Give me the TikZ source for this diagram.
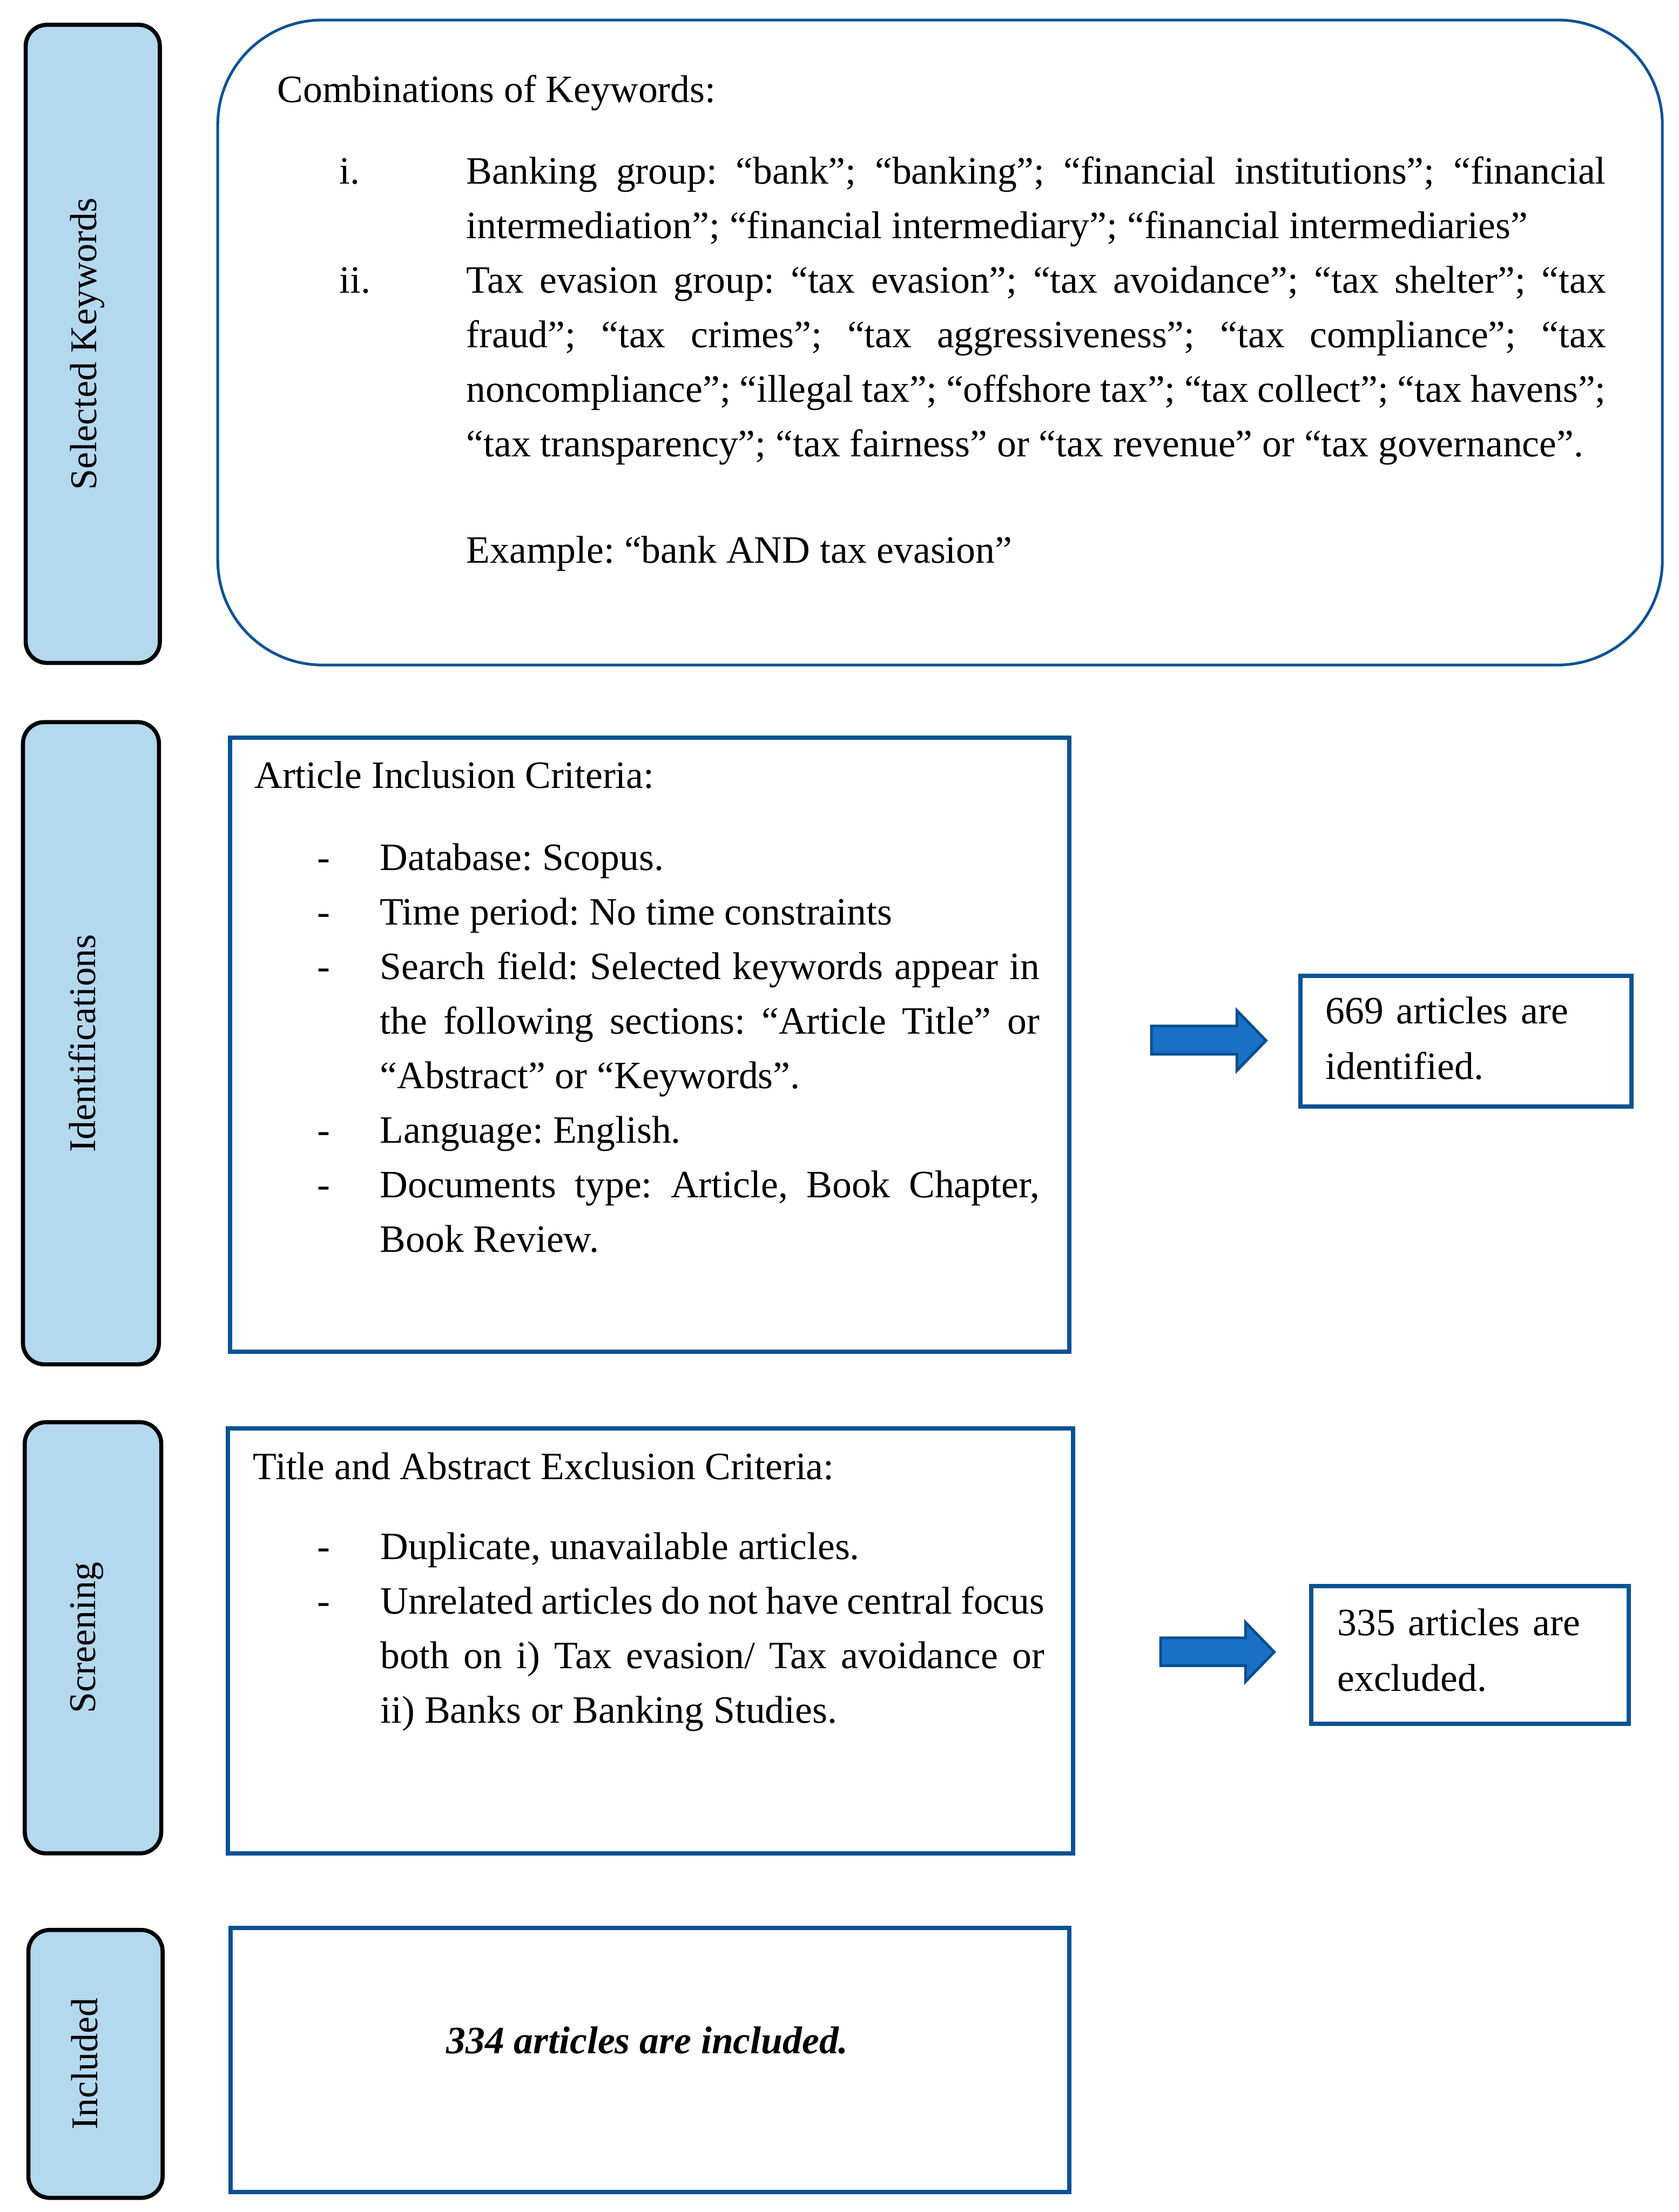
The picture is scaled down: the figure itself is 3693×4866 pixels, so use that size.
\documentclass[tikz,border=0pt]{standalone}
\usepackage{fontspec}
\setmainfont{Liberation Serif}
\definecolor{tabfill}{RGB}{180,216,238}
\definecolor{boxblue}{RGB}{10,82,148}
\definecolor{arrowfill}{RGB}{26,112,198}
\definecolor{arrowline}{RGB}{10,78,142}
\begin{document}
\frenchspacing
\hyphenpenalty=10000
\exhyphenpenalty=10000
\begin{tikzpicture}[x=0.01cm,y=-0.01cm,
  tabbox/.style={draw=black,fill=tabfill,line width=0.09cm,rounded corners=0.47cm,anchor=north west,inner sep=0pt},
  bluebox/.style={draw=boxblue,line width=0.095cm,anchor=north west,inner sep=0pt},
  keybox/.style={draw=boxblue,line width=0.06cm,rounded corners=2.3cm,anchor=north west,inner sep=0pt},
  txt/.style={inner sep=0pt,outer sep=0pt,font=\fontsize{24.2}{34.14}\selectfont},
  para/.style={txt,anchor=base west,align=justify},
  tablabel/.style={inner sep=0pt,rotate=90,anchor=base,font=\fontsize{23.6}{28}\selectfont},
  blockarrow/.style={draw=arrowline,fill=arrowfill,line width=0.06cm,line join=miter}
]
\useasboundingbox (0,0) rectangle (3693,4866);

% ---- left tabs ----
\node[tabbox,minimum width=2.95cm,minimum height=14.03cm] (tabkw) at (52,50) {};
\node[tabbox,minimum width=2.99cm,minimum height=14.12cm] (tabid) at (46,1584) {};
\node[tabbox,minimum width=3.00cm,minimum height=9.48cm] (tabsc) at (50,3124) {};
\node[tabbox,minimum width=2.95cm,minimum height=5.89cm] (tabin) at (58,4241) {};
\node[tablabel] (labkw) at (tabkw.center -| 212,0) {Selected Keywords};
\node[tablabel] (labid) at (tabid.center -| 210,0) {Identifications};
\node[tablabel] (labsc) at (tabsc.center -| 210,0) {Screening};
\node[tablabel] (labin) at (tabin.center -| 214,0) {Included};

% ---- keywords box ----
\node[keybox,minimum width=31.76cm,minimum height=14.18cm] (kwbox) at (476,41) {};
\node[txt,anchor=base west] (kwtitle) at (610,225) {Combinations of Keywords:};
\node[txt,anchor=base west] (kwi) at (747,404) {i.};
\node[para,text width=25.05cm] (kwitemi) at (1026,404) {Banking group: “bank”; “banking”; “financial institutions”; “financial\linebreak intermediation”; “financial intermediary”; “financial intermediaries”};
\node[txt,anchor=base west] (kwii) at (747,644) {ii.};
\node[para,text width=25.05cm] (kwitemii) at (1026,644) {Tax evasion group: “tax evasion”; “tax avoidance”; “tax shelter”; “tax\linebreak fraud”; “tax crimes”; “tax aggressiveness”; “tax compliance”; “tax\linebreak noncompliance”; “illegal tax”; “offshore tax”; “tax collect”; “tax havens”;\linebreak “tax transparency”; “tax fairness” or “tax revenue” or “tax governance”.};
\node[txt,anchor=base west] (kwex) at (1026,1239) {Example: “bank AND tax evasion”};

% ---- identification box ----
\node[bluebox,minimum width=18.45cm,minimum height=13.50cm] (idbox) at (501,1618) {};
\node[txt,anchor=base west] (idtitle) at (560,1734) {Article Inclusion Criteria:};
\node[txt,anchor=base west] (idd1) at (698,1914) {-};
\node[para,text width=14.5cm] (idi1) at (836,1914) {Database: Scopus.};
\node[txt,anchor=base west] (idd2) at (698,2034) {-};
\node[para,text width=14.5cm] (idi2) at (836,2034) {Time period: No time constraints};
\node[txt,anchor=base west] (idd3) at (698,2154) {-};
\node[para,text width=14.5cm] (idi3) at (836,2154) {Search field: Selected keywords appear in\linebreak the following sections: “Article Title” or\linebreak “Abstract” or “Keywords”.};
\node[txt,anchor=base west] (idd4) at (698,2514) {-};
\node[para,text width=14.5cm] (idi4) at (836,2514) {Language: English.};
\node[txt,anchor=base west] (idd5) at (698,2634) {-};
\node[para,text width=14.5cm] (idi5) at (836,2634) {Documents type: Article, Book Chapter,\linebreak Book Review.};

% ---- identified result ----
\draw[blockarrow] (2533,2257) -- (2721,2257) -- (2721,2223) -- (2785,2289) -- (2721,2355) -- (2721,2319) -- (2533,2319) -- cycle;
\node[bluebox,minimum width=7.28cm,minimum height=2.87cm] (idres) at (2856,2142) {};
\node[txt,anchor=base west,text width=6.5cm,align=left,font=\fontsize{24.2}{34.7}\selectfont] (idrestxt) at (2916,2252) {669 articles are\\identified.};

% ---- screening box ----
\node[bluebox,minimum width=18.58cm,minimum height=9.34cm] (scbox) at (497,3138) {};
\node[txt,anchor=base west] (sctitle) at (557,3255) {Title and Abstract Exclusion Criteria:};
\node[txt,anchor=base west] (scd1) at (698,3430) {-};
\node[para,text width=14.6cm] (sci1) at (837,3430) {Duplicate, unavailable articles.};
\node[txt,anchor=base west] (scd2) at (698,3550) {-};
\node[para,text width=14.6cm] (sci2) at (837,3550) {Unrelated articles do not have central focus\linebreak both on i) Tax evasion/ Tax avoidance or\linebreak ii) Banks or Banking Studies.};

% ---- excluded result ----
\draw[blockarrow] (2553,3603) -- (2740,3603) -- (2740,3569) -- (2803,3634) -- (2740,3699) -- (2740,3664) -- (2553,3664) -- cycle;
\node[bluebox,minimum width=6.98cm,minimum height=3.03cm] (scres) at (2880,3484) {};
\node[txt,anchor=base west,text width=6.3cm,align=left,font=\fontsize{24.2}{34.7}\selectfont] (screstxt) at (2942,3598) {335 articles are\\excluded.};

% ---- included box ----
\node[bluebox,minimum width=18.43cm,minimum height=5.81cm] (inbox) at (503,4236) {};
\node[txt,anchor=base,font=\fontsize{24.2}{34.14}\selectfont\bfseries\itshape] (intxt) at (1424,4517) {334 articles are included.};
\end{tikzpicture}
\end{document}
